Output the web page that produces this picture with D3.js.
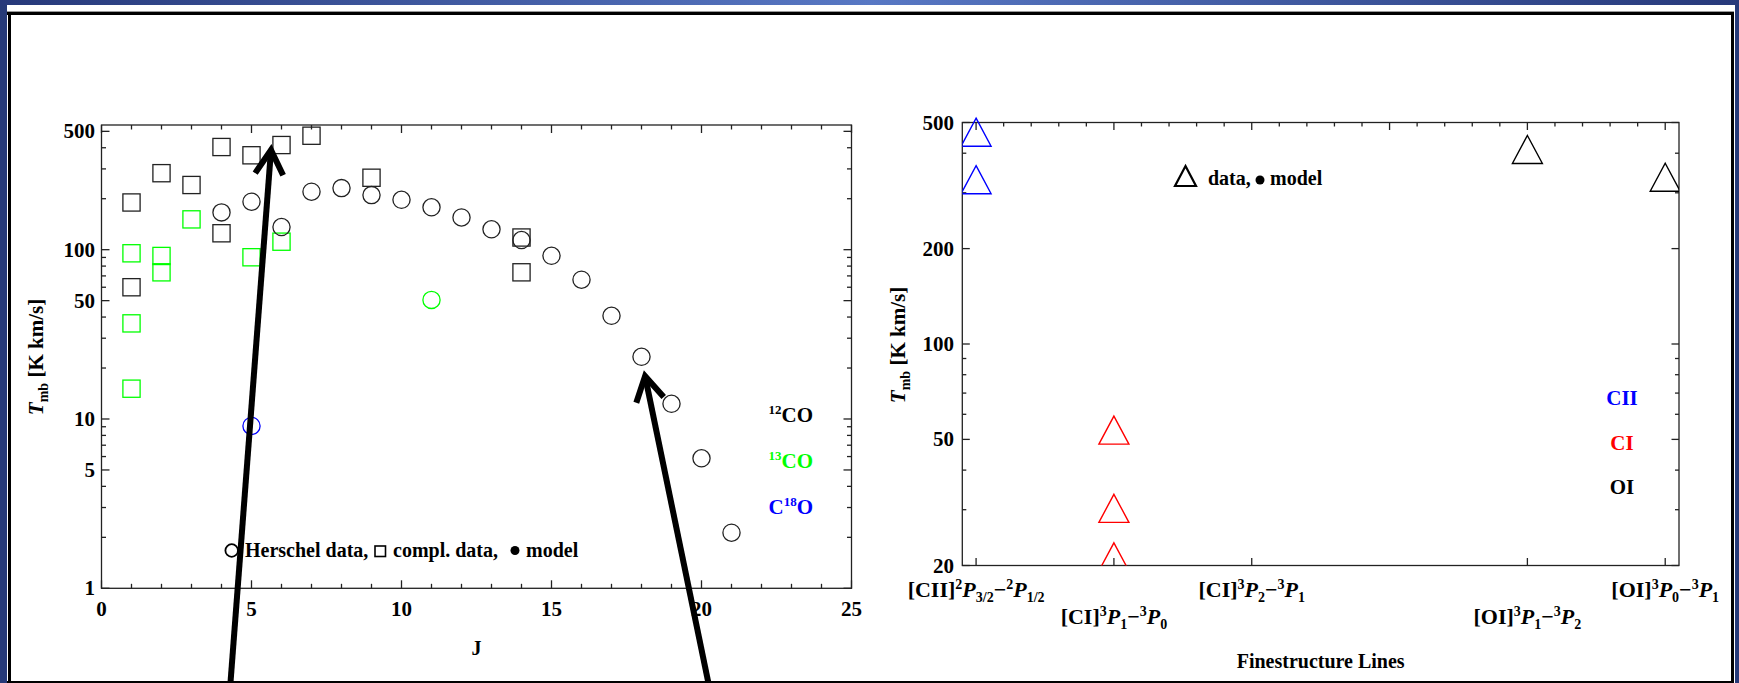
<!DOCTYPE html>
<html>
<head>
<meta charset="utf-8">
<script src="https://cdn.jsdelivr.net/npm/d3@7"></script>
<style>
  html, body { margin: 0; padding: 0; background: #2a3e7c; }
  svg { display: block; }
  text { font-family: "Liberation Serif", "Times New Roman", serif; font-weight: bold; }
</style>
</head>
<body>
<svg id="chart" width="1739" height="683"></svg>
<script>
// ---------------- DATA ----------------
// Left panel: CO ladder, integrated intensity T_mb [K km/s] vs J
const jHerschel12CO = [4, 5, 6, 7, 8, 9, 10, 11, 12, 13, 14, 15, 16, 17, 18, 19, 20, 21];
const tHerschel12CO = [166, 192, 136, 220, 231, 210, 197, 178, 155, 132, 114, 92, 66.5, 40.7, 23.3, 12.3, 5.86, 2.13];
const jCompl12CO = [1, 1, 2, 3, 4, 4, 5, 6, 7, 9, 14, 14];
const tCompl12CO = [190, 60, 283, 241, 404, 125, 361, 415, 471, 266, 118, 73.5];
const jHerschel13CO = [11];
const tHerschel13CO = [50.5];
const jCompl13CO = [1, 1, 1, 2, 2, 3, 5, 6];
const tCompl13CO = [95.2, 36.7, 15.1, 91.8, 73.5, 151, 90.2, 111.5];
const jHerschelC18O = [5];
const tHerschelC18O = [9.1];

const leftXTicks = [0, 5, 10, 15, 20, 25];
const leftYTickLabels = [1, 5, 10, 50, 100, 500];

// Arrows drawn on the left panel: tail and tip in data coordinates
const arrowTailJ = [4.28, 20.28];
const arrowTailT = [0.25, 0.25];
const arrowTipJ = [5.65, 18.12];
const arrowTipT = [388, 17.9];

// Right panel: fine-structure lines
const fsCategories = [
  {pos: 1, el: "CII", sa: "2", a: "3/2", sb: "2", b: "1/2", row: 0},
  {pos: 2, el: "CI",  sa: "3", a: "1",   sb: "3", b: "0",   row: 1},
  {pos: 3, el: "CI",  sa: "3", a: "2",   sb: "3", b: "1",   row: 0},
  {pos: 5, el: "OI",  sa: "3", a: "1",   sb: "3", b: "2",   row: 1},
  {pos: 6, el: "OI",  sa: "3", a: "0",   sb: "3", b: "1",   row: 0}
];
const posCII = [1, 1];
const valCII = [466, 330];
const posCI = [2, 2, 2];
const valCI = [53.5, 30.3, 21.3];
const posOI = [5, 6];
const valOI = [411, 336];
const rightYTickLabels = [20, 50, 100, 200, 500];

// ---------------- FRAME ----------------
const svg = d3.select("#chart");
const defs = svg.append("defs");
const grad = defs.append("linearGradient").attr("id", "topband").attr("x1", "0").attr("x2", "1");
grad.append("stop").attr("offset", "0").attr("stop-color", "#27397a");
grad.append("stop").attr("offset", "0.5").attr("stop-color", "#5878c4");
grad.append("stop").attr("offset", "1").attr("stop-color", "#27397a");

svg.append("rect").attr("x", 0).attr("y", 0).attr("width", 1739).attr("height", 683).attr("fill", "#263a78");
svg.append("rect").attr("x", 0).attr("y", 0).attr("width", 1739).attr("height", 5).attr("fill", "url(#topband)");
svg.append("rect").attr("x", 7).attr("y", 5).attr("width", 1728).attr("height", 678).attr("fill", "#fff");
svg.append("rect").attr("x", 7).attr("y", 11).attr("width", 1727).attr("height", 1.3).attr("fill", "#9a9a9a");
svg.append("rect").attr("x", 7).attr("y", 12).attr("width", 1727).attr("height", 3).attr("fill", "#000");
svg.append("rect").attr("x", 8).attr("y", 12).attr("width", 3).attr("height", 671).attr("fill", "#000");
svg.append("rect").attr("x", 1731).attr("y", 12).attr("width", 3).attr("height", 671).attr("fill", "#000");
svg.append("rect").attr("x", 7).attr("y", 681).attr("width", 1727).attr("height", 2).attr("fill", "#000");

const axisColor = "#222";
const fontNum = 21;

// ---------------- LEFT PANEL ----------------
const xL = d3.scaleLinear().domain([0, 25]).range([101.5, 851.5]);
const yL = d3.scaleLog().domain([1, 545]).range([588.3, 125]);
const gL = svg.append("g");

gL.append("rect").attr("x", xL(0)).attr("y", yL(545)).attr("width", xL(25) - xL(0)).attr("height", yL(1) - yL(545))
  .attr("fill", "none").attr("stroke", axisColor).attr("stroke-width", 1.3);

d3.range(0, 26).forEach(v => {
  const major = v % 5 === 0;
  const len = major ? 8 : 4.5;
  const x = xL(v);
  gL.append("line").attr("x1", x).attr("x2", x).attr("y1", yL(1)).attr("y2", yL(1) - len).attr("stroke", axisColor).attr("stroke-width", 1.3);
  gL.append("line").attr("x1", x).attr("x2", x).attr("y1", yL(545)).attr("y2", yL(545) + len).attr("stroke", axisColor).attr("stroke-width", 1.3);
});
leftXTicks.forEach(v => {
  gL.append("text").attr("x", xL(v)).attr("y", 615.5).attr("text-anchor", "middle").attr("font-size", fontNum).attr("fill", "#000").text(v);
});
yL.ticks().filter(v => v >= 1 && v <= 545).forEach(v => {
  const major = leftYTickLabels.includes(v);
  const len = major ? 8 : 4.5;
  const y = yL(v);
  gL.append("line").attr("x1", xL(0)).attr("x2", xL(0) + len).attr("y1", y).attr("y2", y).attr("stroke", axisColor).attr("stroke-width", 1.3);
  gL.append("line").attr("x1", xL(25)).attr("x2", xL(25) - len).attr("y1", y).attr("y2", y).attr("stroke", axisColor).attr("stroke-width", 1.3);
});
leftYTickLabels.forEach(v => {
  gL.append("text").attr("x", 95).attr("y", yL(v) + 7).attr("text-anchor", "end").attr("font-size", fontNum).attr("fill", "#000").text(v);
});

gL.append("text").attr("x", xL(12.5)).attr("y", 655).attr("text-anchor", "middle").attr("font-size", 20).attr("fill", "#000").text("J");
const ytL = gL.append("text").attr("transform", "translate(43,357) rotate(-90)").attr("text-anchor", "middle").attr("font-size", 21).attr("fill", "#000");
ytL.append("tspan").attr("font-style", "italic").text("T");
ytL.append("tspan").attr("font-size", 14).attr("dy", 5).text("mb");
ytL.append("tspan").attr("dy", -5).text(" [K km/s]");

function circles(js, ts, color) {
  gL.selectAll(null).data(js.map((j, i) => [j, ts[i]])).enter().append("circle")
    .attr("cx", d => xL(d[0])).attr("cy", d => yL(d[1])).attr("r", 8.6)
    .attr("fill", "none").attr("stroke", color).attr("stroke-width", 1.3);
}
function squares(js, ts, color) {
  const s = 17.2;
  gL.selectAll(null).data(js.map((j, i) => [j, ts[i]])).enter().append("rect")
    .attr("x", d => xL(d[0]) - s / 2).attr("y", d => yL(d[1]) - s / 2).attr("width", s).attr("height", s)
    .attr("fill", "none").attr("stroke", color).attr("stroke-width", 1.3);
}
squares(jCompl12CO, tCompl12CO, "#222");
squares(jCompl13CO, tCompl13CO, "#00ff00");
circles(jHerschel12CO, tHerschel12CO, "#222");
circles(jHerschel13CO, tHerschel13CO, "#00ff00");
circles(jHerschelC18O, tHerschelC18O, "#0000ff");

const legY = 557;
gL.append("circle").attr("cx", 231.7).attr("cy", 550.5).attr("r", 6.3).attr("fill", "none").attr("stroke", "#000").attr("stroke-width", 1.8);
gL.append("text").attr("x", 245).attr("y", legY).attr("font-size", 20).attr("fill", "#000").text("Herschel data,");
gL.append("rect").attr("x", 375).attr("y", 546).attr("width", 10.5).attr("height", 10.5).attr("fill", "none").attr("stroke", "#000").attr("stroke-width", 1.6);
gL.append("text").attr("x", 393).attr("y", legY).attr("font-size", 20).attr("fill", "#000").text("compl. data,");
gL.append("circle").attr("cx", 515).attr("cy", 550.5).attr("r", 4.5).attr("fill", "#000");
gL.append("text").attr("x", 526).attr("y", legY).attr("font-size", 20).attr("fill", "#000").text("model");

function species(y, color, parts) {
  const t = gL.append("text").attr("x", 813).attr("y", y).attr("text-anchor", "end").attr("font-size", 21).attr("fill", color);
  parts.forEach(p => {
    const ts = t.append("tspan").text(p[0]);
    if (p[1] === "sup") ts.attr("font-size", 13).attr("dy", -8);
    if (p[1] === "back") ts.attr("dy", 8);
  });
}
species(421.5, "#000", [["12", "sup"], ["CO", "back"]]);
species(467.5, "#00ff00", [["13", "sup"], ["CO", "back"]]);
species(514, "#0000ff", [["C", ""], ["18", "sup"], ["O", "back"]]);

function arrow(tailJ, tailT, tipJ, tipT) {
  const x0 = xL(tailJ), y0 = yL(tailT), x1 = xL(tipJ), y1 = yL(tipT);
  const dx = x0 - x1, dy = y0 - y1, L = Math.hypot(dx, dy);
  const rx = dx / L, ry = dy / L;
  const a = Math.PI / 6, wl = 28;
  const c = Math.cos(a), s = Math.sin(a);
  const w1 = [x1 + wl * (rx * c - ry * s), y1 + wl * (rx * s + ry * c)];
  const w2 = [x1 + wl * (rx * c + ry * s), y1 + wl * (-rx * s + ry * c)];
  gL.append("line").attr("x1", x0).attr("y1", y0).attr("x2", x1 + rx * 4).attr("y2", y1 + ry * 4)
    .attr("stroke", "#000").attr("stroke-width", 6);
  gL.append("path").attr("d", `M${w1[0]},${w1[1]}L${x1},${y1}L${w2[0]},${w2[1]}`)
    .attr("fill", "none").attr("stroke", "#000").attr("stroke-width", 6).attr("stroke-linejoin", "miter").attr("stroke-miterlimit", 6);
}
arrowTailJ.forEach((_, i) => arrow(arrowTailJ[i], arrowTailT[i], arrowTipJ[i], arrowTipT[i]));

// ---------------- RIGHT PANEL ----------------
const xR = d3.scaleLinear().domain([0.9, 6.1]).range([962.3, 1679]);
const yR = d3.scaleLog().domain([20, 500]).range([565.5, 122.5]);
const gR = svg.append("g");
defs.append("clipPath").attr("id", "clipR").append("rect")
  .attr("x", xR(0.9)).attr("y", 100).attr("width", xR(6.1) - xR(0.9)).attr("height", yR(20) - 100);

gR.append("rect").attr("x", xR(0.9)).attr("y", yR(500)).attr("width", xR(6.1) - xR(0.9)).attr("height", yR(20) - yR(500))
  .attr("fill", "none").attr("stroke", axisColor).attr("stroke-width", 1.3);

d3.range(5, 31).map(k => k / 5).forEach(v => {
  const major = Math.abs(v - Math.round(v)) < 1e-9;
  const len = major ? 7.5 : 4;
  gR.append("line").attr("x1", xR(v)).attr("x2", xR(v)).attr("y1", yR(500)).attr("y2", yR(500) + len).attr("stroke", axisColor).attr("stroke-width", 1.3);
});
fsCategories.forEach(c => {
  gR.append("line").attr("x1", xR(c.pos)).attr("x2", xR(c.pos)).attr("y1", yR(20)).attr("y2", yR(20) - 7.5).attr("stroke", axisColor).attr("stroke-width", 1.3);
});
yR.ticks().filter(v => v >= 20 && v <= 500).forEach(v => {
  const major = rightYTickLabels.includes(v);
  const len = major ? 7.5 : 4;
  const y = yR(v);
  gR.append("line").attr("x1", xR(0.9)).attr("x2", xR(0.9) + len).attr("y1", y).attr("y2", y).attr("stroke", axisColor).attr("stroke-width", 1.3);
  gR.append("line").attr("x1", xR(6.1)).attr("x2", xR(6.1) - len).attr("y1", y).attr("y2", y).attr("stroke", axisColor).attr("stroke-width", 1.3);
});
rightYTickLabels.forEach(v => {
  gR.append("text").attr("x", 954).attr("y", yR(v) + 7).attr("text-anchor", "end").attr("font-size", fontNum).attr("fill", "#000").text(v);
});

fsCategories.forEach(c => {
  const y = c.row === 0 ? 597 : 624;
  const t = gR.append("text").attr("x", xR(c.pos)).attr("y", y).attr("text-anchor", "middle").attr("font-size", 22).attr("fill", "#000");
  t.append("tspan").text("[" + c.el + "]");
  t.append("tspan").attr("font-size", 14).attr("dy", -8).text(c.sa);
  t.append("tspan").attr("font-style", "italic").attr("dy", 8).text("P");
  t.append("tspan").attr("font-size", 14).attr("dy", 5).text(c.a);
  t.append("tspan").attr("dy", -5).text("\u2212");
  t.append("tspan").attr("font-size", 14).attr("dy", -8).text(c.sb);
  t.append("tspan").attr("font-style", "italic").attr("dy", 8).text("P");
  t.append("tspan").attr("font-size", 14).attr("dy", 5).text(c.b);
});
gR.append("text").attr("x", (xR(0.9) + xR(6.1)) / 2).attr("y", 668).attr("text-anchor", "middle").attr("font-size", 20).attr("fill", "#000").text("Finestructure Lines");
const ytR = gR.append("text").attr("transform", "translate(905,345) rotate(-90)").attr("text-anchor", "middle").attr("font-size", 21).attr("fill", "#000");
ytR.append("tspan").attr("font-style", "italic").text("T");
ytR.append("tspan").attr("font-size", 14).attr("dy", 5).text("mb");
ytR.append("tspan").attr("dy", -5).text(" [K km/s]");

function triangles(ps, vs, color) {
  const w = 30, h = 28;
  gR.append("g").attr("clip-path", "url(#clipR)").selectAll("path").data(ps.map((p, i) => [p, vs[i]])).enter().append("path")
    .attr("d", d => {
      const cx = xR(d[0]), cy = yR(d[1]);
      return `M${cx},${cy - h / 2}L${cx + w / 2},${cy + h / 2}L${cx - w / 2},${cy + h / 2}Z`;
    })
    .attr("fill", "none").attr("stroke", color).attr("stroke-width", 1.4);
}
triangles(posCII, valCII, "#0000ff");
triangles(posCI, valCI, "#ff0000");
triangles(posOI, valOI, "#000");

gR.append("path").attr("d", "M1185.5,166L1196,186L1175,186Z").attr("fill", "none").attr("stroke", "#000").attr("stroke-width", 2.2);
gR.append("text").attr("x", 1208).attr("y", 185).attr("font-size", 20).attr("fill", "#000").text("data,");
gR.append("circle").attr("cx", 1260).attr("cy", 180).attr("r", 4.5).attr("fill", "#000");
gR.append("text").attr("x", 1270).attr("y", 185).attr("font-size", 20).attr("fill", "#000").text("model");

gR.append("text").attr("x", 1622).attr("y", 405).attr("text-anchor", "middle").attr("font-size", 21).attr("fill", "#0000ff").text("CII");
gR.append("text").attr("x", 1622).attr("y", 450).attr("text-anchor", "middle").attr("font-size", 21).attr("fill", "#ff0000").text("CI");
gR.append("text").attr("x", 1622).attr("y", 494).attr("text-anchor", "middle").attr("font-size", 21).attr("fill", "#000").text("OI");
</script>
</body>
</html>
